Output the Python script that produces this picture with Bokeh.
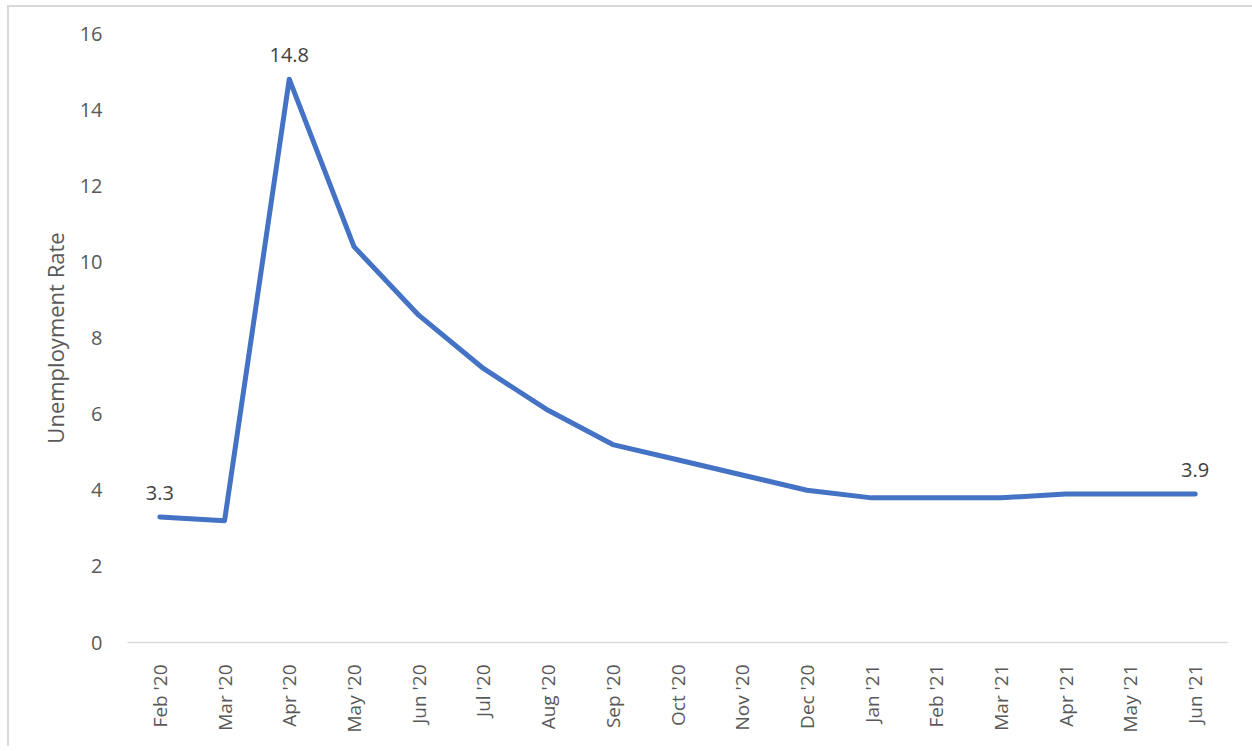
from bokeh.plotting import figure
from bokeh.models import FactorRange, Range1d, ColumnDataSource, SingleIntervalTicker
from bokeh.layouts import column
from bokeh.embed import file_html
from bokeh.resources import INLINE
from bokeh.core.properties import value
import math

months = ["Feb '20", "Mar '20", "Apr '20", "May '20", "Jun '20", "Jul '20", "Aug '20",
          "Sep '20", "Oct '20", "Nov '20", "Dec '20", "Jan '21", "Feb '21", "Mar '21",
          "Apr '21", "May '21", "Jun '21"]
rate = [3.3, 3.2, 14.8, 10.4, 8.6, 7.2, 6.1, 5.2, 4.8, 4.4, 4.0, 3.8, 3.8, 3.8, 3.9, 3.9, 3.9]
label_months = ["Feb '20", "Apr '20", "Jun '21"]
label_values = [3.3, 14.8, 3.9]
label_texts = ["3.3", "14.8", "3.9"]

FONT = "Open Sans"
AX = "#595959"

p = figure(x_range=FactorRange(*months), y_range=Range1d(0, 16),
           frame_width=1100, frame_height=609,
           min_border_left=118, min_border_top=26, min_border_right=30, min_border_bottom=104,
           output_backend="svg", toolbar_location=None, background_fill_color="white",
           border_fill_color="white")
p.outline_line_color = None
p.grid.visible = False

src = ColumnDataSource(dict(x=months, y=rate))
p.line("x", "y", source=src, line_color="#4472C4", line_width=5,
       line_join="round", line_cap="round")

lsrc = ColumnDataSource(dict(x=label_months, y=label_values, t=label_texts))
p.text("x", "y", text="t", source=lsrc, text_align="center", text_baseline="alphabetic",
       y_offset=-24, text_font=value(FONT), text_font_size="20px", text_color="#404040")

# y axis
p.yaxis.ticker = SingleIntervalTicker(interval=2)
p.yaxis.axis_line_color = None
p.yaxis.major_tick_line_color = None
p.yaxis.minor_tick_line_color = None
p.yaxis.major_label_text_font = FONT
p.yaxis.major_label_text_font_size = "20px"
p.yaxis.major_label_text_color = AX
p.yaxis.major_label_standoff = 19
p.yaxis.axis_label = "Unemployment Rate"
p.yaxis.axis_label_text_font = FONT
p.yaxis.axis_label_text_font_size = "22px"
p.yaxis.axis_label_text_font_style = "normal"
p.yaxis.axis_label_text_color = AX
p.yaxis.axis_label_standoff = 7

# x axis
p.xaxis.axis_line_color = "#D9D9D9"
p.xaxis.axis_line_width = 1.5
p.xaxis.major_tick_line_color = None
p.xaxis.minor_tick_line_color = None
p.xaxis.major_label_orientation = math.pi / 2
p.xaxis.major_label_text_font = FONT
p.xaxis.major_label_text_font_size = "19px"
p.xaxis.major_label_text_color = AX
p.xaxis.major_label_standoff = 16

layout = column(p, margin=(5, 0, 0, 7),
                styles={"border-top": "2px solid #D9D9D9", "border-left": "2px solid #D9D9D9"})

open("out.html", "w").write(file_html(layout, INLINE))
